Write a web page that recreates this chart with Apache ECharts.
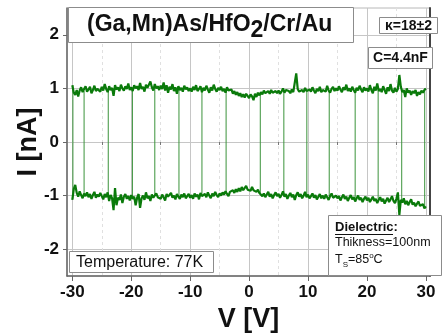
<!DOCTYPE html>
<html>
<head>
<meta charset="utf-8">
<script src="https://cdn.jsdelivr.net/npm/echarts@6/dist/echarts.min.js"></script>
<style>
  html, body { margin: 0; padding: 0; background: #fff; }
  #chart { width: 443px; height: 334px; }
</style>
</head>
<body>
<div id="chart"></div>
<script>
// voltage sweep sampling: first point and step [V]
const vStart = -30
const vStep = 0.25

// upper current level [nA]
const upperCurrent = [
  1.06, 0.92, 0.88, 0.97, 0.85, 0.96, 1.02, 0.93, 0.99, 1.04, 0.94, 0.98, 1.03, 0.91, 0.97, 1.05, 0.95, 0.99, 1.02, 0.94,
  1.03, 0.96, 1.08, 0.99, 0.93, 1.04, 0.97, 1.01, 0.86, 1.06, 0.98, 1.02, 0.95, 1.07, 1.00, 0.96, 1.04, 0.99, 1.09, 0.97,
  1.02, 0.95, 1.06, 1.00, 1.04, 0.97, 1.10, 0.99, 1.03, 0.94, 1.07, 1.01, 0.98, 1.13, 1.02, 0.96, 1.08, 1.00, 1.04, 0.97,
  1.05, 0.99, 1.11, 0.96, 1.06, 0.92, 1.03, 0.98, 1.08, 0.95, 1.02, 0.90, 1.04, 0.97, 1.01, 0.94, 1.05, 0.98, 1.02, 0.95,
  1.00, 0.94, 1.03, 0.97, 1.06, 0.95, 0.99, 1.04, 0.93, 1.01, 0.96, 1.05, 0.98, 0.92, 1.02, 0.96, 1.07, 0.99, 0.94, 1.01,
  0.97, 1.03, 0.95, 0.99, 0.92, 1.02, 0.96, 0.93, 0.98, 0.90, 0.95, 0.88, 0.93, 0.86, 0.91, 0.84, 0.89, 0.83, 0.90, 0.86,
  0.82, 0.89, 0.85, 0.78, 0.90, 0.84, 0.92, 0.87, 0.93, 0.89, 0.96, 0.91, 0.88, 0.95, 0.90, 0.97, 0.92, 0.89, 0.95, 0.91,
  0.96, 0.90, 0.94, 1.00, 0.92, 0.97, 0.97, 0.95, 0.91, 0.98, 0.93, 0.96, 1.28, 0.99, 0.94, 0.92, 0.97, 0.93, 1.01, 0.95,
  0.92, 0.98, 0.94, 1.02, 0.96, 0.91, 0.99, 0.95, 1.03, 0.93, 0.97, 1.00, 0.94, 1.05, 0.96, 0.92, 0.99, 1.03, 0.95, 1.00,
  0.96, 1.04, 0.98, 0.93, 1.02, 0.97, 1.07, 0.95, 1.00, 0.94, 1.03, 0.97, 0.92, 1.01, 0.96, 1.05, 0.98, 0.93, 1.02, 0.96,
  1.00, 0.94, 1.06, 0.97, 0.91, 1.03, 0.96, 1.09, 0.95, 0.99, 0.93, 1.04, 0.97, 0.90, 1.02, 0.95, 1.08, 0.96, 0.92, 1.01,
  0.94, 0.99, 1.25, 1.03, 0.93, 0.97, 0.84, 1.00, 0.92, 0.96, 0.88, 0.95, 0.91, 0.97, 0.86, 0.93, 0.89, 0.96, 0.92, 0.97,
  1.00
]

// lower current level [nA]
const lowerCurrent = [
  -1.08, -0.88, -0.80, -0.95, -1.02, -0.92, -0.99, -1.05, -0.96, -1.01, -0.94, -1.03, -0.97, -1.06, -0.99, -0.93, -1.04, -0.98, -1.02, -0.95,
  -1.01, -1.07, -0.97, -1.03, -0.94, -1.10, -0.99, -1.05, -1.27, -0.86, -1.18, -1.04, -1.08, -0.98, -1.14, -1.02, -0.97, -1.06, -1.01, -1.09,
  -0.99, -1.06, -1.02, -1.18, -1.04, -0.97, -1.23, -1.05, -1.00, -1.08, -0.94, -1.05, -1.01, -1.10, -0.98, -1.04, -1.07, -0.96, -1.03, -1.00,
  -1.06, -0.98, -1.03, -1.09, -0.97, -1.02, -1.05, -0.95, -1.04, -1.00, -1.07, -0.97, -1.02, -1.06, -0.98, -1.03, -0.96, -1.05, -1.01, -0.97,
  -1.04, -0.99, -1.06, -0.96, -1.02, -0.98, -1.07, -0.95, -1.01, -1.04, -0.97, -1.03, -0.94, -1.00, -1.05, -0.96, -1.01, -0.93, -0.99, -1.03,
  -0.96, -1.00, -0.94, -0.98, -0.92, -0.97, -1.01, -0.93, -0.96, -0.90, -0.95, -0.88, -0.93, -0.86, -0.92, -0.84, -0.90, -0.87, -0.82, -0.89,
  -0.86, -0.91, -0.84, -0.90, -0.87, -0.93, -0.89, -0.95, -0.97, -1.01, -0.96, -1.03, -0.98, -0.93, -1.02, -0.97, -1.05, -0.99, -0.94, -1.01,
  -0.97, -1.04, -0.99, -0.92, -1.02, -0.97, -1.06, -1.00, -0.95, -1.03, -0.98, -1.08, -0.99, -0.94, -1.02, -0.97, -1.05, -1.00, -0.93, -1.03,
  -0.98, -1.05, -1.01, -0.96, -1.04, -0.99, -1.07, -1.02, -0.97, -1.05, -1.00, -1.06, -0.98, -1.03, -1.08, -1.01, -0.96, -1.04, -1.07, -1.00,
  -1.05, -1.01, -1.09, -1.03, -0.98, -1.06, -1.02, -1.10, -1.04, -0.99, -1.07, -1.03, -1.11, -1.05, -1.00, -1.08, -1.04, -1.12, -1.06, -1.02,
  -1.09, -1.04, -1.12, -1.07, -1.02, -1.10, -1.06, -1.14, -1.08, -1.03, -1.11, -1.06, -1.15, -1.09, -1.04, -1.12, -1.07, -1.01, -1.10, -1.14,
  -1.06, -0.94, -1.36, -1.08, -1.13, -1.05, -1.16, -1.10, -1.18, -1.12, -1.07, -1.17, -1.13, -1.20, -1.15, -1.11, -1.19, -1.22, -1.16, -1.24,
  -1.20
]

// switching events: voltage, and the levels the jump spans
const switchVoltage = [-29.9, -28.0, -23.9, -19.8, -16.0, -11.9, -8.0, -3.9, 1.9, 5.9, 9.8, 13.6, 18.0, 21.9, 25.9, 29.8]
const switchTop = [1.06, 0.95, 0.98, 1.00, 1.00, 1.00, 0.98, 0.95, 0.90, 0.92, 0.95, 0.95, 0.97, 0.96, 0.93, 1.00]
const switchBottom = [-1.06, -0.98, -1.02, -1.02, -1.00, -1.00, -1.00, -0.97, -0.95, -1.00, -1.02, -1.02, -1.06, -1.08, -1.12, -1.20]

const xMajorTicks = [-30, -20, -10, 0, 10, 20, 30]
const xMinorTicks = [-25, -15, -5, 5, 15, 25]
const yTicks = [-2, -1, 0, 1, 2]

const FONT = '"Liberation Sans", Arial, sans-serif'
const GREEN = '#0a7a0a'

const upperData = upperCurrent.map((c, i) => [vStart + i * vStep, c])
const lowerData = lowerCurrent.map((c, i) => [vStart + i * vStep, c])
const switchData = []
switchVoltage.forEach((v, i) => {
  switchData.push([v, switchBottom[i]], [v, switchTop[i]], [v, null])
})

const chart = echarts.init(document.getElementById('chart'), null, { renderer: 'canvas' })

const option = {
  animation: false,
  backgroundColor: '#fff',
  grid: {
    left: 67, right: 13, top: 8, bottom: 58,
    outerBoundsMode: 'none',
    show: true, borderColor: '#b8b8b8', borderWidth: 1
  },
  xAxis: [
    {
      type: 'value', min: -30.9, max: 30.7, position: 'bottom',
      name: 'V [V]', nameLocation: 'middle', nameGap: 26,
      nameTextStyle: { fontFamily: FONT, fontSize: 27, fontWeight: 'bold', color: '#111' },
      axisLine: { show: true, onZero: false, lineStyle: { color: '#666', width: 1.5 } },
      axisTick: { show: true, customValues: xMajorTicks, length: 5, lineStyle: { color: '#666' } },
      axisLabel: { customValues: xMajorTicks, fontFamily: FONT, fontSize: 17, fontWeight: 'bold', color: '#111', margin: 8 },
      splitLine: { show: true, lineStyle: { color: '#c6c6c6', width: 1 } }
    },
    {
      type: 'value', min: -30.9, max: 30.7, position: 'bottom',
      axisLine: { show: false },
      axisTick: { show: true, customValues: xMinorTicks, length: 3, lineStyle: { color: '#777' } },
      axisLabel: { show: false },
      splitLine: { show: true, lineStyle: { color: '#e0e0e0', width: 1, type: [3, 3] } }
    }
  ],
  yAxis: [
    {
      type: 'value', min: -2.5, max: 2.5, position: 'left',
      name: 'I [nA]', nameLocation: 'middle', nameGap: 25, nameRotate: 90, nameMoveOverlap: false,
      nameTextStyle: { fontFamily: FONT, fontSize: 27, fontWeight: 'bold', color: '#111' },
      axisLine: { show: true, onZero: false, lineStyle: { color: '#666', width: 1.5 } },
      axisTick: { show: true, customValues: yTicks, length: 4, lineStyle: { color: '#666' } },
      axisLabel: { customValues: yTicks, fontFamily: FONT, fontSize: 17, fontWeight: 'bold', color: '#111', margin: 8 },
      splitLine: { show: true, lineStyle: { color: '#c6c6c6', width: 1 } }
    },
    {
      type: 'value', min: -2.5, max: 2.5, position: 'right',
      axisLine: { show: true, onZero: false, lineStyle: { color: '#444', width: 2 } },
      axisTick: { show: false },
      axisLabel: { show: false },
      splitLine: { show: false }
    }
  ],
  series: [
    {
      type: 'line', data: switchData, symbol: 'none', connectNulls: false,
      lineStyle: { color: '#3b933b', width: 1 }, z: 3
    },
    {
      type: 'line', data: upperData, symbol: 'none',
      lineStyle: { color: GREEN, width: 2.2 }, z: 4
    },
    {
      type: 'line', data: lowerData, symbol: 'none',
      lineStyle: { color: GREEN, width: 2.2 }, z: 4
    }
  ],
  graphic: [
    // title box
    { type: 'rect', z: 100, shape: { x: 68.5, y: 7.5, width: 285, height: 35 }, style: { fill: '#fff', stroke: '#8c8c8c', lineWidth: 1 } },
    {
      type: 'text', z: 101, x: 87, y: 25,
      style: {
        text: '(Ga,Mn)As/HfO{s|2}/Cr/Au', fill: '#111', verticalAlign: 'middle',
        fontFamily: FONT, fontSize: 23, fontWeight: 'bold',
        rich: { s: { fontFamily: FONT, fontSize: 23, fontWeight: 'bold', fill: '#111', padding: [12, 0, 0, 0] } }
      }
    },
    // kappa box
    { type: 'rect', z: 100, shape: { x: 379.5, y: 17.5, width: 58, height: 16 }, style: { fill: '#fff', stroke: '#8c8c8c', lineWidth: 1 } },
    { type: 'text', z: 101, x: 408.5, y: 26, style: { text: 'κ=18±2', fill: '#111', align: 'center', verticalAlign: 'middle', fontFamily: FONT, fontSize: 14, fontWeight: 'bold' } },
    // capacitance box
    { type: 'rect', z: 100, shape: { x: 368.5, y: 47.5, width: 64, height: 21 }, style: { fill: '#fff', stroke: '#8c8c8c', lineWidth: 1 } },
    { type: 'text', z: 101, x: 400.5, y: 58.5, style: { text: 'C=4.4nF', fill: '#111', align: 'center', verticalAlign: 'middle', fontFamily: FONT, fontSize: 14, fontWeight: 'bold' } },
    // temperature box
    { type: 'rect', z: 100, shape: { x: 69.5, y: 251.5, width: 144, height: 21 }, style: { fill: '#fff', stroke: '#8c8c8c', lineWidth: 1 } },
    { type: 'text', z: 101, x: 76, y: 262.5, style: { text: 'Temperature: 77K', fill: '#111', verticalAlign: 'middle', fontFamily: FONT, fontSize: 16 } },
    // dielectric box
    { type: 'rect', z: 100, shape: { x: 328.5, y: 215.5, width: 113, height: 60 }, style: { fill: '#fff', stroke: '#8c8c8c', lineWidth: 1 } },
    { type: 'text', z: 101, x: 335, y: 227, style: { text: 'Dielectric:', fill: '#111', verticalAlign: 'middle', fontFamily: FONT, fontSize: 13, fontWeight: 'bold' } },
    { type: 'line', z: 101, shape: { x1: 335, y1: 234.5, x2: 393, y2: 234.5 }, style: { stroke: '#111', lineWidth: 1 } },
    { type: 'text', z: 101, x: 335, y: 243, style: { text: 'Thikness=100nm', fill: '#111', verticalAlign: 'middle', fontFamily: FONT, fontSize: 12.5 } },
    {
      type: 'text', z: 101, x: 335, y: 260,
      style: {
        text: 'T{s|S}=85{o|o}C', fill: '#111', verticalAlign: 'middle', fontFamily: FONT, fontSize: 12.5,
        rich: {
          s: { fontFamily: FONT, fontSize: 8, fill: '#111', padding: [9, 0, 0, 0] },
          o: { fontFamily: FONT, fontSize: 8, fill: '#111', padding: [0, 0, 9, 0] }
        }
      }
    }
  ]
}

chart.setOption(option)
</script>
</body>
</html>
